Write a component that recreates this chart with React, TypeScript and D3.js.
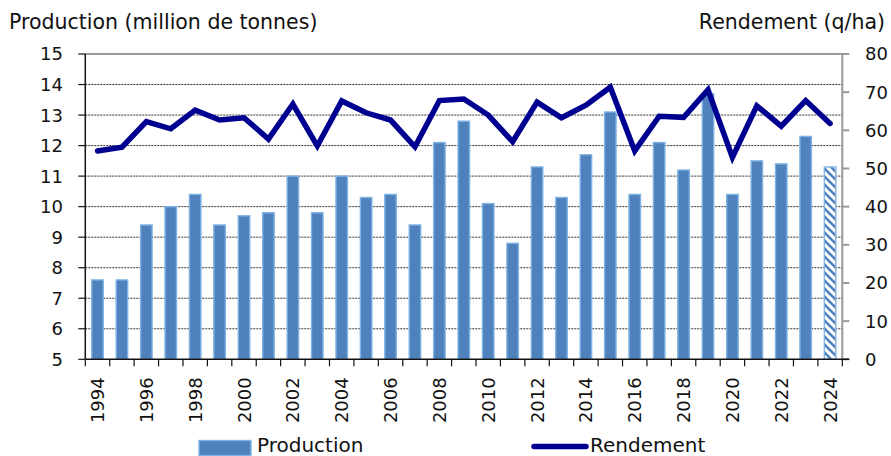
import React, { useEffect, useRef } from 'react';
import * as d3 from 'd3';

const years = [
  '1994', '1995', '1996', '1997', '1998', '1999', '2000', '2001', '2002', '2003', '2004',
  '2005', '2006', '2007', '2008', '2009', '2010', '2011', '2012', '2013', '2014',
  '2015', '2016', '2017', '2018', '2019', '2020', '2021', '2022', '2023', '2024',
];

// million de tonnes
const production = [
  7.6, 7.6, 9.4, 10.0, 10.4, 9.4, 9.7, 9.8, 11.0, 9.8, 11.0,
  10.3, 10.4, 9.4, 12.1, 12.8, 10.1, 8.8, 11.3, 10.3, 11.7,
  13.1, 10.4, 12.1, 11.2, 13.7, 10.4, 11.5, 11.4, 12.3, 11.3,
];

// q/ha
const rendement = [
  54.6, 55.6, 62.3, 60.4, 65.3, 62.7, 63.3, 57.7, 66.9, 55.9, 67.7,
  64.6, 62.7, 55.7, 67.8, 68.2, 64.0, 57.0, 67.4, 63.3, 66.6,
  71.3, 54.6, 63.7, 63.4, 70.6, 52.9, 66.4, 61.1, 67.8, 61.8,
];

const provisional = ['2024'];
const leftTicks = [5, 6, 7, 8, 9, 10, 11, 12, 13, 14, 15];
const rightTicks = [0, 10, 20, 30, 40, 50, 60, 70, 80];
const xLabels = years.filter((_, i) => i % 2 === 0);

const FONT = '"DejaVu Sans", sans-serif';
const BAR = '#4f81bd';
const BAR_EDGE = '#7fb3e3';
const LINE = '#000090';

const App: React.FC = () => {
  const svgRef = useRef<SVGSVGElement>(null);

  useEffect(() => {
    if (!svgRef.current) return;
    const svg = d3.select(svgRef.current);
    svg.selectAll('*').remove();

    const left = 85.3;
    const right = 842.3;
    const top = 54;
    const bottom = 359.3;

    const xCat = d3.scaleBand<string>().domain(years).range([left, right]);
    const x = d3.scaleBand<string>().domain(years).range([left, right]).paddingInner(0.53).paddingOuter(0.265);
    const yL = d3.scaleLinear().domain([5, 15]).range([bottom, top]);
    const yR = d3.scaleLinear().domain([0, 80]).range([bottom, top]);

    const defs = svg.append('defs');
    const pat = defs.append('pattern')
      .attr('id', 'hatch')
      .attr('patternUnits', 'userSpaceOnUse')
      .attr('width', 8)
      .attr('height', 8);
    pat.append('rect').attr('width', 8).attr('height', 8).attr('fill', '#fff');
    pat.append('path')
      .attr('d', 'M-2,-2 L10,10 M-2,6 L2,10 M6,-2 L10,2')
      .attr('stroke', BAR)
      .attr('stroke-width', 2.6);

    // gridlines
    svg.append('g')
      .selectAll('line')
      .data(leftTicks.slice(1, -1))
      .enter()
      .append('line')
      .attr('x1', left)
      .attr('x2', right)
      .attr('y1', d => yL(d))
      .attr('y2', d => yL(d))
      .attr('stroke', '#333')
      .attr('stroke-width', 1)
      .attr('stroke-dasharray', '2,1');

    // top border
    svg.append('line')
      .attr('x1', left).attr('x2', right)
      .attr('y1', top).attr('y2', top)
      .attr('stroke', '#999').attr('stroke-width', 2);

    // bars
    const data = years.map((yr, i) => ({ yr, v: production[i] }));
    svg.append('g')
      .selectAll('rect')
      .data(data)
      .enter()
      .append('rect')
      .attr('x', d => x(d.yr)!)
      .attr('width', x.bandwidth())
      .attr('y', d => yL(d.v))
      .attr('height', d => bottom - yL(d.v))
      .attr('fill', d => provisional.includes(d.yr) ? 'url(#hatch)' : BAR)
      .attr('stroke', BAR_EDGE)
      .attr('stroke-width', 1.4);

    // line
    const line = d3.line<number>()
      .x((_, i) => xCat(years[i])! + xCat.bandwidth() / 2)
      .y(d => yR(d));
    svg.append('path')
      .attr('d', line(rendement))
      .attr('fill', 'none')
      .attr('stroke', LINE)
      .attr('stroke-width', 5.5)
      .attr('stroke-linejoin', 'miter')
      .attr('stroke-linecap', 'round');

    // left axis
    svg.append('line')
      .attr('x1', left).attr('x2', left)
      .attr('y1', top).attr('y2', bottom)
      .attr('stroke', '#111').attr('stroke-width', 1.5);
    const lt = svg.append('g');
    leftTicks.forEach(t => {
      lt.append('line')
        .attr('x1', left - 7).attr('x2', left)
        .attr('y1', yL(t)).attr('y2', yL(t))
        .attr('stroke', '#111').attr('stroke-width', 1.2);
      lt.append('text')
        .attr('x', 63).attr('y', yL(t))
        .attr('dy', '0.36em')
        .attr('text-anchor', 'end')
        .attr('font-family', FONT).attr('font-size', 18)
        .attr('fill', '#111')
        .text(t);
    });

    // right axis
    svg.append('line')
      .attr('x1', right).attr('x2', right)
      .attr('y1', top - 1).attr('y2', bottom)
      .attr('stroke', '#999').attr('stroke-width', 2);
    const rt = svg.append('g');
    rightTicks.forEach(t => {
      rt.append('line')
        .attr('x1', right).attr('x2', right + 7)
        .attr('y1', yR(t)).attr('y2', yR(t))
        .attr('stroke', '#999').attr('stroke-width', 2);
      rt.append('text')
        .attr('x', 865).attr('y', yR(t))
        .attr('dy', '0.36em')
        .attr('text-anchor', 'start')
        .attr('font-family', FONT).attr('font-size', 18)
        .attr('fill', '#111')
        .text(t);
    });

    // bottom axis
    svg.append('line')
      .attr('x1', left).attr('x2', right + 7)
      .attr('y1', bottom).attr('y2', bottom)
      .attr('stroke', '#111').attr('stroke-width', 1.5);
    const bt = svg.append('g');
    [...years.map(yr => xCat(yr)!), right].forEach(px => {
      bt.append('line')
        .attr('x1', px).attr('x2', px)
        .attr('y1', bottom).attr('y2', bottom + 7)
        .attr('stroke', '#111').attr('stroke-width', 1.2);
    });
    xLabels.forEach(yr => {
      const cx = xCat(yr)! + xCat.bandwidth() / 2;
      bt.append('text')
        .attr('transform', `translate(${cx},${bottom + 18}) rotate(-90)`)
        .attr('dy', '0.36em')
        .attr('text-anchor', 'end')
        .attr('font-family', FONT).attr('font-size', 18)
        .attr('fill', '#111')
        .text(yr);
    });

    // axis titles
    svg.append('text')
      .attr('x', 9).attr('y', 29)
      .attr('font-family', FONT).attr('font-size', 20.5)
      .attr('fill', '#111')
      .text('Production (million de tonnes)');
    svg.append('text')
      .attr('x', 885).attr('y', 29)
      .attr('text-anchor', 'end')
      .attr('font-family', FONT).attr('font-size', 20.5)
      .attr('fill', '#111')
      .text('Rendement (q/ha)');

    // legend
    const lg = svg.append('g');
    lg.append('rect')
      .attr('x', 199).attr('y', 440.5)
      .attr('width', 52).attr('height', 15)
      .attr('fill', BAR).attr('stroke', BAR_EDGE).attr('stroke-width', 1.4);
    lg.append('text')
      .attr('x', 257).attr('y', 452)
      .attr('font-family', FONT).attr('font-size', 20)
      .attr('fill', '#111')
      .text('Production');
    lg.append('line')
      .attr('x1', 534).attr('x2', 586)
      .attr('y1', 446.5).attr('y2', 446.5)
      .attr('stroke', LINE).attr('stroke-width', 5.5)
      .attr('stroke-linecap', 'round');
    lg.append('text')
      .attr('x', 590).attr('y', 452)
      .attr('font-family', FONT).attr('font-size', 20)
      .attr('fill', '#111')
      .text('Rendement');
  }, []);

  return (
    <svg
      ref={svgRef}
      width={891}
      height={456}
      style={{ position: 'absolute', left: 0, top: 0, background: '#fff' }}
    />
  );
};

export default App;
